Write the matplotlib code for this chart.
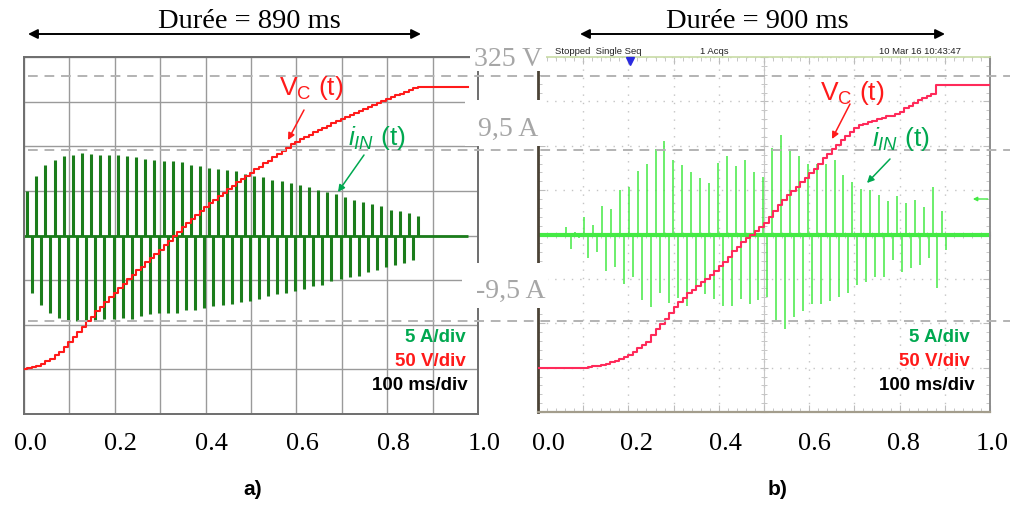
import numpy as np
import matplotlib.pyplot as plt
from matplotlib.lines import Line2D
from matplotlib.patches import Rectangle, FancyArrowPatch

W, H = 1013, 506

plt.rcParams['mathtext.fontset'] = 'custom'
plt.rcParams['mathtext.rm'] = 'Liberation Sans'
plt.rcParams['mathtext.it'] = 'Liberation Sans:italic'
plt.rcParams['mathtext.bf'] = 'Liberation Sans:bold'

# ---- a) simulation : pics de courant (A), un positif puis un negatif toutes les 20 ms ----
period_a = 20.0
t0_pos_a = 7.3
t0_neg_a = 17.3
i_pos_a = [5.0, 6.7, 7.9, 8.5, 8.9, 9.0, 9.2, 9.1, 9.0, 9.0, 9.0, 8.9, 8.8, 8.6, 8.5, 8.4,
           8.3, 8.2, 7.9, 7.8, 7.6, 7.5, 7.3, 7.2, 6.9, 6.7, 6.5, 6.2, 6.1, 5.9, 5.7, 5.4,
           5.1, 4.9, 4.7, 4.3, 4.0, 3.8, 3.5, 3.3, 2.9, 2.7, 2.5, 2.2]
i_neg_a = [-6.4, -7.8, -8.7, -9.2, -9.6, -9.6, -9.6, -9.6, -9.4, -9.3, -9.2, -9.3, -9.0,
           -8.8, -8.7, -8.7, -8.7, -8.4, -8.3, -8.1, -7.9, -7.8, -7.7, -7.5, -7.35, -7.1,
           -6.8, -6.6, -6.4, -6.2, -6.0, -5.7, -5.6, -5.1, -4.9, -4.6, -4.5, -4.1, -3.9,
           -3.5, -3.3, -3.1, -2.8]
# tension Vc (V) apres chaque pic (toutes les 10 ms)
vc_a = [1, 3, 4, 6, 9, 12, 16, 20, 25, 31,
        36, 42, 48, 54, 59, 65, 70, 76, 81, 86,
        91, 96, 101, 106, 111, 115, 120, 125, 129, 134,
        139, 144, 149, 154, 159, 164, 168, 173, 177, 182,
        186, 190, 194, 198, 202, 206, 210, 213, 217, 220,
        224, 227, 231, 234, 238, 241, 245, 248, 252, 255,
        258, 260, 263, 266, 268, 271, 273, 276, 278, 280,
        283, 285, 287, 290, 292, 294, 296, 299, 301, 303,
        305, 307, 309, 311, 313, 315, 316]
t_end_a = 978

# ---- b) mesure ----
period_b = 19.8
t0_pos_b = 62.0
t0_neg_b = 72.0
i_pos_b = [0.85, 0.3, 1.95, 1.1, 3.2, 2.9, 5.0, 5.4, 7.1, 8.0,
           9.6, 10.5, 8.4, 7.8, 7.0, 6.4, 5.8, 8.1, 8.9, 7.7,
           8.4, 7.0, 6.5, 9.7, 11.2, 9.6, 8.8, 8.0, 8.0, 7.9,
           8.4, 6.7, 5.9, 5.1, 5.0, 4.4, 3.8, 4.3, 3.5, 3.9,
           3.1, 5.3, 2.6]
i_neg_b = [-1.6, -0.4, -2.7, -2.0, -4.1, -3.7, -5.6, -4.8, -7.4, -8.2,
           -6.6, -7.7, -7.1, -8.0, -5.9, -6.7, -7.3, -8.1, -8.0, -7.3,
           -7.8, -7.4, -7.0, -9.7, -10.7, -9.3, -8.6, -7.8, -7.8, -7.5,
           -7.0, -6.6, -5.7, -5.3, -4.8, -4.8, -2.9, -4.2, -3.8, -3.4,
           -2.6, -6.0, -1.7]
t0_vc_b = 110
step_vc_b = 10
vc_b = [1, 2, 2, 3, 4, 6, 8, 10, 12, 14,
        18, 22, 25, 29, 37, 44, 49, 55, 62, 68,
        74, 79, 84, 88, 92, 96, 100, 104, 109, 114,
        119, 125, 131, 136, 141, 146, 150, 154, 159, 163,
        170, 177, 183, 189, 194, 199, 204, 209, 214, 219,
        224, 230, 236, 241, 246, 251, 256, 261, 266, 270,
        273, 275, 277, 278, 280, 281, 283, 284, 286, 288,
        292, 295, 298, 301, 304, 306, 308, 319, 319, 319,
        319, 319, 319, 319, 319, 318, 318, 318, 318]
t_end_b = 1000

xticks_outer = [0.0, 0.2, 0.4, 0.6, 0.8, 1.0]

green_a = '#1b7d1b'
red_a = '#ff1a1a'
green_b = '#44ea44'
red_b = '#ff2a5a'
lab_green = '#00a850'
gray_lab = '#a6a6a6'


def fx(x):
    return x / W


def fy(y):
    return 1 - y / H


def rect(x0, y0, x1, y1):
    return [fx(x0), fy(y1), (x1 - x0) / W, (y1 - y0) / H]


fig = plt.figure(figsize=(W / 100, H / 100), dpi=100)

# axes exterieurs (graduations 0.0 ... 1.0)
for x0, x1 in [(30, 484), (548, 992)]:
    axo = fig.add_axes(rect(x0, 58, x1, 415), zorder=-2)
    axo.set_xlim(0, 1)
    axo.set_ylim(0, 1)
    axo.set_xticks(xticks_outer)
    axo.set_xticklabels([f'{v:.1f}' for v in xticks_outer], family='Liberation Serif', fontsize=19)
    axo.set_yticks([])
    axo.tick_params(length=0, pad=13)
    for s in axo.spines.values():
        s.set_visible(False)
    axo.patch.set_visible(False)

# ---------- panneau a) ----------
ax_a = fig.add_axes(rect(24, 58, 478, 415))
ax_a.set_xlim(0, 1000)
ax_a.set_ylim(-20, 20)
ax_a.set_xticks(np.arange(0, 1001, 100))
ax_a.set_yticks(np.arange(-20, 21, 5))
ax_a.tick_params(length=0, labelbottom=False, labelleft=False)
ax_a.set_axisbelow(True)
ax_a.grid(True, color='#9a9a9a', lw=1.0)
for s in ax_a.spines.values():
    s.set_color('#6e6e6e')
    s.set_linewidth(1.4)

t_pos_a = t0_pos_a + period_a * np.arange(len(i_pos_a))
t_neg_a = t0_neg_a + period_a * np.arange(len(i_neg_a))
ax_a.hlines(0, 0, t_end_a, color=green_a, lw=2.0)
ax_a.vlines(t_pos_a, 0, i_pos_a, color=green_a, lw=2.2)
ax_a.vlines(t_neg_a, i_neg_a, 0, color=green_a, lw=2.2)

axv_a = ax_a.twinx()
axv_a.set_ylim(-50, 350)
axv_a.set_yticks([])
for s in axv_a.spines.values():
    s.set_visible(False)
t_spk_a = np.sort(np.concatenate([t_pos_a, t_neg_a]))
t_vc_a = np.concatenate([[0], t_spk_a, [t_end_a]])
v_vc_a = np.concatenate([[0], vc_a, [vc_a[-1]]])
axv_a.step(t_vc_a, v_vc_a, where='post', color=red_a, lw=1.5)

# ---------- panneau b) ----------
ax_c = fig.add_axes(rect(538, 58, 990, 413), zorder=-1)
ax_c.set_xlim(0, 1000)
ax_c.set_ylim(-20, 20)
ax_c.patch.set_visible(False)
ax_c.spines['left'].set_position(('data', 500))
ax_c.spines['bottom'].set_position(('data', 0))
ax_c.spines['top'].set_visible(False)
ax_c.spines['right'].set_visible(False)
for s in ['left', 'bottom']:
    ax_c.spines[s].set_color('#c8c8c8')
    ax_c.spines[s].set_linewidth(0.8)
ax_c.set_xticks(np.arange(0, 1001, 100))
ax_c.set_yticks(np.arange(-20, 21, 5))
ax_c.set_xticks(np.arange(0, 1001, 20), minor=True)
ax_c.set_yticks(np.arange(-20, 21, 1), minor=True)
ax_c.tick_params(which='both', direction='inout', color='#bdbdbd', labelbottom=False, labelleft=False)
ax_c.tick_params(which='major', length=6)
ax_c.tick_params(which='minor', length=4)

ax_b = fig.add_axes(rect(538, 58, 990, 413))
ax_b.set_xlim(0, 1000)
ax_b.set_ylim(-20, 20)
ax_b.patch.set_visible(False)
axv_b = ax_b.twinx()
axv_b.set_ylim(-50, 350)
axv_b.set_yticks([])
for s in axv_b.spines.values():
    s.set_visible(False)

ax_b.set_xticks(np.arange(0, 1001, 100))
ax_b.set_yticks(np.arange(-20, 21, 5))
ax_b.set_xticks(np.arange(0, 1001, 20), minor=True)
ax_b.set_yticks(np.arange(-20, 21, 1), minor=True)
ax_b.tick_params(which='both', direction='in', top=True, right=True, color='#bdbdbd',
                 labelbottom=False, labelleft=False)
ax_b.tick_params(which='major', length=5)
ax_b.tick_params(which='minor', length=3)
ax_b.grid(True, which='major', color='#c4c4c4', ls=(0, (1, 5)), lw=1.0)
ax_b.spines['left'].set_color('#4b4336')
ax_b.spines['left'].set_linewidth(2.0)
ax_b.spines['bottom'].set_color('#a39d8c')
ax_b.spines['bottom'].set_linewidth(1.6)
ax_b.spines['right'].set_color('#8c8c8c')
ax_b.spines['right'].set_linewidth(1.4)
ax_b.spines['top'].set_color('#c8dca5')
ax_b.spines['top'].set_linewidth(1.2)

t_pos_b = t0_pos_b + period_b * np.arange(len(i_pos_b))
t_neg_b = t0_neg_b + period_b * np.arange(len(i_neg_b))
ax_b.hlines(0, 0, t_end_b, color=green_b, lw=3.0)
ax_b.vlines(t_pos_b, 0, i_pos_b, color=green_b, lw=1.1)
ax_b.vlines(t_neg_b, i_neg_b, 0, color=green_b, lw=1.1)
ax_b.annotate('', xy=(962, 4), xytext=(995, 4),
              arrowprops=dict(arrowstyle='-|>', color=green_b, lw=1, mutation_scale=6,
                              shrinkA=0, shrinkB=0))

t_vc_b = np.concatenate([[0], t0_vc_b + step_vc_b * np.arange(len(vc_b)), [t_end_b]])
v_vc_b = np.concatenate([[0], vc_b, [vc_b[-1]]])
axv_b.step(t_vc_b, v_vc_b, where='post', color=red_b, lw=1.5)

# en-tete de l'oscilloscope
for x, s in [(555, 'Stopped  Single Seq'), (700, '1 Acqs'), (879, '10 Mar 16 10:43:47')]:
    fig.text(fx(x), fy(52), s, ha='left', va='center', fontsize=6.8, family='Liberation Sans', color='#222222')
fig.add_artist(Line2D([fx(630)], [fy(62)], marker='v', color='#2a2ae0', ms=6, transform=fig.transFigure))

# ---------- lignes de reference en pointilles ----------
for y_px in [77, 150.5, 322]:
    fig.add_artist(Line2D([fx(28), fx(1010)], [fy(y_px)] * 2, transform=fig.transFigure,
                          color='#b3b3b3', lw=1.4, ls=(0, (5, 3.5)), zorder=3))

for x0, y0, x1, y1 in [(470, 38, 546, 72), (465, 101, 546, 147), (462, 264, 548, 309)]:
    fig.add_artist(Rectangle((fx(x0), fy(y1)), (x1 - x0) / W, (y1 - y0) / H,
                             transform=fig.transFigure, fc='white', ec='none', zorder=3.5))
for x, y, s in [(508, 66, '325 V'), (508, 136, '9,5 A'), (511, 298, '-9,5 A')]:
    fig.text(fx(x), fy(y), s, ha='center', va='baseline', family='Liberation Serif',
             fontsize=20, color=gray_lab, zorder=4)

# ---------- titres et fleches de duree ----------
for xc, s in [(249, 'Durée = 890 ms'), (757, 'Durée = 900 ms')]:
    fig.text(fx(xc), fy(28), s, ha='center', va='baseline', family='Liberation Serif', fontsize=20.5)
for x0, x1 in [(28, 421), (580, 945)]:
    fig.add_artist(FancyArrowPatch((fx(x0), fy(35)), (fx(x1), fy(35)), transform=fig.transFigure,
                                   arrowstyle='<|-|>', mutation_scale=14, lw=1.4, color='black',
                                   shrinkA=0, shrinkB=0))

# ---------- etiquettes des courbes ----------
def arrow(x0, y0, x1, y1, color):
    fig.add_artist(FancyArrowPatch((fx(x0), fy(y0)), (fx(x1), fy(y1)), transform=fig.transFigure,
                                   arrowstyle='-|>', mutation_scale=10, lw=1.1, color=color,
                                   shrinkA=0, shrinkB=0, zorder=5))


for x, y in [(279, 95), (820, 100)]:
    fig.text(fx(x), fy(y), r'V$_{\mathrm{C}}$ (t)', ha='left', va='baseline', family='Liberation Sans',
             fontsize=19, color=red_a, zorder=5)
for x, y in [(348, 145), (872, 146)]:
    fig.text(fx(x), fy(y), r'$i_{IN}$ (t)', ha='left', va='baseline', family='Liberation Sans',
             fontsize=19, color=lab_green, zorder=5)
arrow(304, 111, 288, 141, red_a)
arrow(850, 105, 832, 140, red_a)
arrow(364, 156, 338, 193, lab_green)
arrow(890, 160, 867, 184, lab_green)

for xr, x100 in [(466, 468), (970, 975)]:
    fig.text(fx(xr), fy(337), '5 A/div', ha='right', va='center', family='Liberation Sans',
             fontsize=13.5, weight='bold', color=lab_green)
    fig.text(fx(xr), fy(362), '50 V/div', ha='right', va='center', family='Liberation Sans',
             fontsize=13.5, weight='bold', color=red_a)
    fig.text(fx(x100), fy(385), '100 ms/div', ha='right', va='center', family='Liberation Sans',
             fontsize=13.5, weight='bold', color='black')

fig.text(fx(253), fy(495), 'a)', ha='center', va='baseline', family='Liberation Sans', fontsize=15, weight='bold')
fig.text(fx(778), fy(495), 'b)', ha='center', va='baseline', family='Liberation Sans', fontsize=15, weight='bold')

fig.savefig('out.png', dpi=100, facecolor='white')
